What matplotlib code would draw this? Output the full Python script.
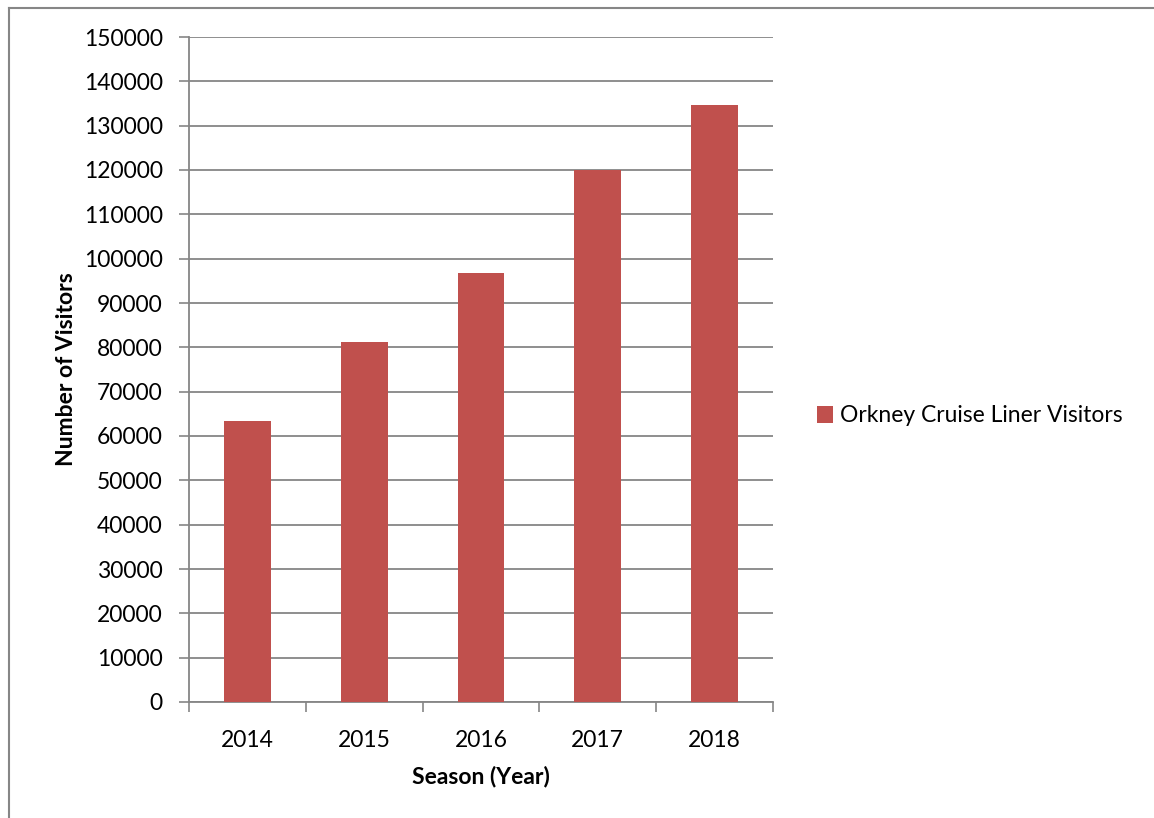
import matplotlib
matplotlib.use("Agg")
import matplotlib.pyplot as plt
from matplotlib.lines import Line2D
import numpy as np

plt.rcParams["font.family"] = ["Lato", "DejaVu Sans"]

years = ["2014", "2015", "2016", "2017", "2018"]
visitors = [63400, 81200, 96700, 120100, 134700]
y_ticks = list(range(0, 150001, 10000))

bar_color = "#C0504D"
axis_color = "#868686"
fs = 16.5

fig = plt.figure(figsize=(11.54, 8.18), dpi=100)
ax = fig.add_axes([189 / 1154, 1 - 702 / 818, (773 - 189) / 1154, (702 - 37) / 818])

x = np.arange(len(years))
bars = ax.bar(x, visitors, width=0.4, color=bar_color, zorder=3,
              label="Orkney Cruise Liner Visitors")

ax.set_xlim(-0.5, len(years) - 0.5)
ax.set_ylim(0, 150000)
ax.set_yticks(y_ticks)
ax.set_yticklabels([str(v) for v in y_ticks], fontsize=fs)

# category labels centred, tick marks on category boundaries
ax.set_xticks(x)
ax.set_xticklabels(years, fontsize=fs)
ax.tick_params(axis="x", length=0, pad=20)
ax.set_xticks(np.arange(len(years) + 1) - 0.5, minor=True)
ax.tick_params(axis="x", which="minor", length=7, color=axis_color, width=1.2)
ax.tick_params(axis="y", length=7, color=axis_color, width=1.2, pad=12)

ax.yaxis.grid(True, color=axis_color, linewidth=1.3, zorder=0)
ax.set_axisbelow(True)
for s in ["top", "right"]:
    ax.spines[s].set_visible(False)
for s in ["left", "bottom"]:
    ax.spines[s].set_color(axis_color)
    ax.spines[s].set_linewidth(1.3)

ax.set_ylabel("Number of Visitors", fontsize=fs, fontweight="bold", labelpad=5)
ax.set_xlabel("Season (Year)", fontsize=fs, fontweight="bold", labelpad=11)

fig.legend(handles=[bars], labels=["Orkney Cruise Liner Visitors"],
           loc="center left", bbox_to_anchor=(796 / 1154, 1 - 416 / 818),
           frameon=False, fontsize=fs, handlelength=0.7, handleheight=0.7,
           handletextpad=0.3)

# outer chart border (top and left visible)
fig.add_artist(Line2D([8.5 / 1154, 1.0], [1 - 7.5 / 818] * 2, color=axis_color, lw=1.5,
                      transform=fig.transFigure))
fig.add_artist(Line2D([8.5 / 1154] * 2, [0.0, 1 - 7.5 / 818], color=axis_color, lw=1.5,
                      transform=fig.transFigure))

fig.savefig("out.png", dpi=100)
